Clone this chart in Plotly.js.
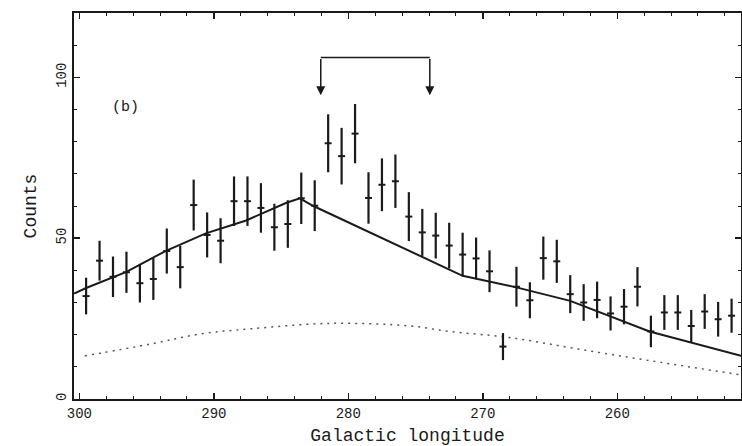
<!DOCTYPE html>
<html>
<head>
<meta charset="utf-8">
<script src="https://cdn.plot.ly/plotly-3.0.1.min.js"></script>
<style>
html,body{margin:0;padding:0;background:#fff;}
#chart{width:742px;height:446px;}
</style>
</head>
<body>
<div id="chart"></div>
<script>
// Galactic longitude of each bin (deg)
var longitude = [299.5,298.5,297.5,296.5,295.5,294.5,293.5,292.5,291.5,290.5,
  289.5,288.5,287.5,286.5,285.5,284.5,283.5,282.5,281.5,280.5,
  279.5,278.5,277.5,276.5,275.5,274.5,273.5,272.5,271.5,270.5,
  269.5,268.5,267.5,266.5,265.5,264.5,263.5,262.5,261.5,260.5,
  259.5,258.5,257.5,256.5,255.5,254.5,253.5,252.5,251.5];
var counts = [32,43,38,39.4,36,37.3,46,41,60.3,51,
  49.2,61.5,61.5,59.4,53.4,54.4,62.4,60.1,79.5,75.5,
  82.5,62.5,66.6,67.7,56.7,51.8,50.8,47.7,44.9,43.7,
  39.7,16.3,34.9,30.7,43.8,42.8,32.6,30,30.8,26.6,
  28.7,34.9,21,26.9,26.9,22.7,27.2,24.8,25.9];
var countErr = [5.7,6.2,6.3,6.4,6,6.5,7,6.6,7.9,7,
  7,7.7,7.7,7.7,7.3,7.4,8,7.9,9,8.8,
  9.2,8,8.2,8.3,7.6,7.3,7.1,7.1,6.8,6.5,
  6.5,4.2,6.2,5.6,6.7,6.7,5.9,5.7,5.7,5.3,
  5.5,6.1,4.9,5.4,5.4,5,5.4,5.4,5.3];
// model curve (solid)
var modelLon = [300.4,299.5,296.5,293.6,290.6,287.6,284.6,283.6,282.6,275.4,271.5,267.5,263.5,257.6,250.8];
var modelVal = [32.8,34.5,39.5,46,51.5,55.5,61,62.4,60,45.8,38.3,34.7,30.5,21,13.4];
// background curve (dotted)
var bgLon = [299.6,294.7,291.0,287.3,281.4,275.4,272.5,268.0,263.0,257.4,250.8];
var bgVal = [13.4,17.1,20.2,21.8,23.5,22.7,21,19.1,15.6,11.8,7.5];

var ink = '#1a1a1a';
var font = 'Liberation Mono, DejaVu Sans Mono, monospace';

var traces = [
  {x: modelLon, y: modelVal, mode: 'lines', line: {color: ink, width: 2}, hoverinfo: 'skip'},
  {x: bgLon, y: bgVal, mode: 'lines', line: {color: '#555', width: 1.5, dash: '2px,5px', shape: 'spline'}, hoverinfo: 'skip'},
  {x: longitude, y: counts, mode: 'markers',
   marker: {symbol: 'line-ew', size: 5, color: ink, line: {color: ink, width: 2}},
   error_y: {type: 'data', array: countErr, visible: true, color: ink, thickness: 2.2, width: 0}}
];

var arrowTop = 106.2, arrowTip = 94.4, arrowL = 282.05, arrowR = 273.94;

var layout = {
  width: 742, height: 446,
  margin: {l: 74, r: 1, t: 13, b: 47},
  paper_bgcolor: '#fff', plot_bgcolor: '#fff',
  showlegend: false,
  font: {family: font, color: ink},
  xaxis: {
    range: [300.4, 250.8], showgrid: false, zeroline: false,
    showline: true, linecolor: ink, linewidth: 2, mirror: 'ticks',
    ticks: 'inside', ticklen: 6, tickwidth: 1.5, tickcolor: ink,
    tickvals: [300,290,280,270,260], ticktext: ['300','290','280','270','260'],
    minor: {dtick: 2, tick0: 300, ticks: 'inside', ticklen: 3, tickwidth: 1, tickcolor: ink},
    tickfont: {family: font, size: 14, color: ink},
    title: {text: 'Galactic longitude', font: {family: font, size: 18, color: ink}, standoff: 9}
  },
  yaxis: {
    range: [0, 120], showgrid: false, zeroline: false,
    showline: true, linecolor: ink, linewidth: 2, mirror: 'ticks',
    ticks: 'inside', ticklen: 6, tickwidth: 1.5, tickcolor: ink,
    tickvals: [0,50,100], ticktext: ['0','50','100'], tickangle: -90,
    minor: {dtick: 10, tick0: 0, ticks: 'inside', ticklen: 3, tickwidth: 1, tickcolor: ink},
    tickfont: {family: font, size: 14, color: ink},
    title: {text: 'Counts', font: {family: font, size: 18, color: ink}, standoff: 13}
  },
  shapes: [
    {type: 'line', xref: 'x', yref: 'y', x0: arrowL, x1: arrowR, y0: arrowTop, y1: arrowTop, line: {color: ink, width: 1.5}}
  ],
  annotations: [
    {x: arrowL, y: arrowTip, ax: arrowL, ay: arrowTop, xref: 'x', yref: 'y', axref: 'x', ayref: 'y',
     text: '', showarrow: true, arrowhead: 2, arrowsize: 1.2, arrowwidth: 1.5, arrowcolor: ink},
    {x: arrowR, y: arrowTip, ax: arrowR, ay: arrowTop, xref: 'x', yref: 'y', axref: 'x', ayref: 'y',
     text: '', showarrow: true, arrowhead: 2, arrowsize: 1.2, arrowwidth: 1.5, arrowcolor: ink},
    {x: 296.6, y: 90.6, xref: 'x', yref: 'y', text: '(b)', showarrow: false,
     font: {family: font, size: 15, color: ink}}
  ]
};

Plotly.newPlot('chart', traces, layout, {displayModeBar: false, staticPlot: true});
</script>
</body>
</html>
